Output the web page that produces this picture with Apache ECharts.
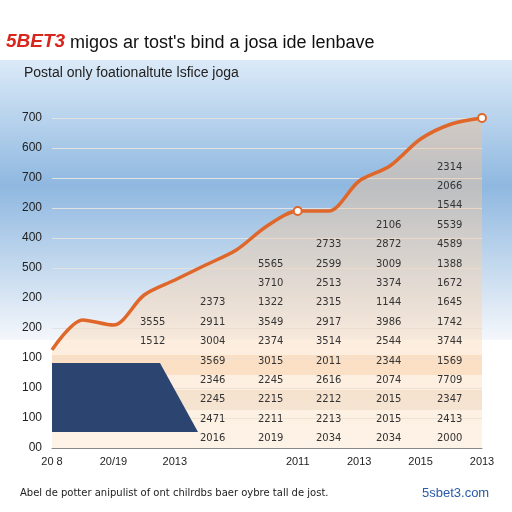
<!DOCTYPE html>
<html><head><meta charset="utf-8">
<script src="https://cdn.jsdelivr.net/npm/echarts@6/dist/echarts.min.js"></script>
<style>html,body{margin:0;padding:0;background:#fff}#c{width:512px;height:512px}</style>
</head><body><div id="c"></div>
<script>
const yLabels = ['00','100','100','100','200','200','500','400','200','700','600','700'];
const xLabels = ['20 8','','20/19','','2013','','','','2011','','2013','','2015','','2013'];
const values = [3.27,4.27,4.1,5.1,5.6,6.1,6.6,7.4,7.9,7.9,8.9,9.4,10.3,10.8,11];
const tableRows = [
 ['','','','','','2314'],['','','','','','2066'],['','','','','','1544'],
 ['','','','','2106','5539'],['','','','2733','2872','4589'],
 ['','','5565','2599','3009','1388'],['','','3710','2513','3374','1672'],
 ['','2373','1322','2315','1144','1645'],['3555','2911','3549','2917','3986','1742'],
 ['1512','3004','2374','3514','2544','3744'],['','3569','3015','2011','2344','1569'],
 ['','2346','2245','2616','2074','7709'],['','2245','2215','2212','2015','2347'],
 ['','2471','2211','2213','2015','2413'],['','2016','2019','2034','2034','2000']
];
const tableX=[140,200,258,316,376,437], tableY0=162, tableDy=19.4;
const gr=[];
tableRows.forEach((r,i)=>r.forEach((t,j)=>{ if(t) gr.push({type:'text',left:tableX[j],top:tableY0+i*tableDy,style:{text:t,fill:'#333',font:'10px DejaVu Sans'},z:20});}));
gr.unshift(
 {type:'rect',shape:{x:0,y:60,width:512,height:280},style:{fill:new echarts.graphic.LinearGradient(0,0,0,1,[{offset:0,color:'#dbeaf8'},{offset:0.45,color:'#8fb8e0'},{offset:1,color:'#f4f7fb'}])},z:-10},
 {type:'rect',shape:{x:52,y:355,width:430,height:20},style:{fill:'#fbe3cc'},z:-5},
 {type:'rect',shape:{x:52,y:390,width:430,height:20},style:{fill:'#efe6dc'},z:-5},
 {type:'polygon',shape:{points:[[52,363],[160,363],[198,432],[52,432]]},style:{fill:'#2c4470'},z:15}
);
gr.push(
 {type:'text',left:6,top:32,style:{text:'5BET3',fill:'#d9261c',font:'bold italic 19px Liberation Sans'}},
 {type:'text',left:70,top:34,style:{text:"migos ar tost's bind a josa ide lenbave",fill:'#111',font:'18px Liberation Sans'}},
 {type:'text',left:24,top:66,style:{text:'Postal only foationaltute lsfice joga',fill:'#222',font:'14px Liberation Sans'}},
 {type:'text',left:20,top:488,style:{text:'Abel de potter anipulist of ont chilrdbs baer oybre tall de jost.',fill:'#222',font:'10px DejaVu Sans'}},
 {type:'text',left:422,top:487,style:{text:'5sbet3.com',fill:'#2a5aa8',font:'13px Liberation Sans'}}
);
const chart=echarts.init(document.getElementById('c'));
chart.setOption({
 animation:false,
 grid:{left:52,right:30,top:118,bottom:64},
 graphic:gr,
 xAxis:{type:'category',data:xLabels,boundaryGap:false,axisLine:{lineStyle:{color:'#888'}},axisTick:{show:false},
   axisLabel:{color:'#222',fontSize:11,interval:0}},
 yAxis:{type:'value',min:0,max:11,interval:1,splitLine:{lineStyle:{color:'#e2e2e2'}},axisLine:{show:false},axisTick:{show:false},
   axisLabel:{color:'#222',fontSize:12,margin:10,formatter:v=>yLabels[v]}},
 series:[{type:'line',data:values,smooth:0.3,symbol:'none',z:4,
   lineStyle:{color:'#e0672a',width:3.5},
   areaStyle:{color:new echarts.graphic.LinearGradient(0,0,0,1,[{offset:0,color:'rgba(246,190,140,0.6)'},{offset:1,color:'rgba(252,230,205,0.7)'}])},
   markPoint:{symbol:'circle',symbolSize:8,label:{show:false},itemStyle:{color:'#fff',borderColor:'#e0672a',borderWidth:2},
     data:[{coord:[8,7.9]},{coord:[14,11]}]}}]
});
</script></body></html>
